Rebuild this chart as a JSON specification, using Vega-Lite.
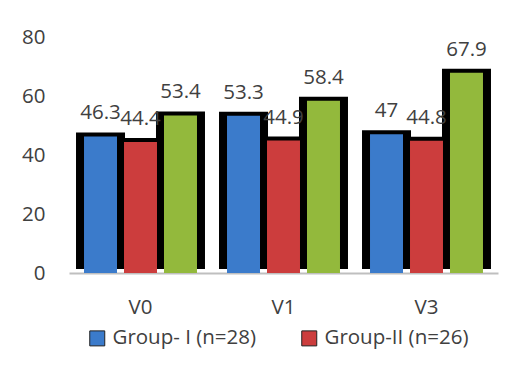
{
  "$schema": "https://vega.github.io/schema/vega-lite/v6.json",
  "autosize": {"type": "none"},
  "width": 429,
  "height": 236,
  "padding": {"left": 69, "top": 37, "right": 34, "bottom": 95},
  "background": "white",
  "config": {
    "view": {"stroke": null},
    "font": "Open Sans",
    "axis": {"labelColor": "#404040", "labelFont": "Open Sans", "labelFontSize": 20.5},
    "legend": {"labelColor": "#404040", "labelFont": "Open Sans", "labelFontSize": 20.5}
  },
  "data": {
    "values": [
      {"visit": "V0", "group": "Group- I (n=28)", "value": 46.3},
      {"visit": "V0", "group": "Group-II (n=26)", "value": 44.4},
      {"visit": "V0", "group": "Group-III", "value": 53.4},
      {"visit": "V1", "group": "Group- I (n=28)", "value": 53.3},
      {"visit": "V1", "group": "Group-II (n=26)", "value": 44.9},
      {"visit": "V1", "group": "Group-III", "value": 58.4},
      {"visit": "V3", "group": "Group- I (n=28)", "value": 47},
      {"visit": "V3", "group": "Group-II (n=26)", "value": 44.8},
      {"visit": "V3", "group": "Group-III", "value": 67.9}
    ]
  },
  "encoding": {
    "x": {
      "field": "visit", "type": "nominal",
      "scale": {"paddingInner": 0.21, "paddingOuter": 0.105},
      "axis": {"title": null, "labelAngle": 0, "ticks": false, "labelPadding": 24, "domainColor": "#bfbfbf", "domainWidth": 2}
    },
    "xOffset": {
      "field": "group", "type": "nominal",
      "sort": ["Group- I (n=28)", "Group-II (n=26)", "Group-III"],
      "scale": {"paddingInner": 0.175, "paddingOuter": 0}
    },
    "y": {
      "field": "value", "type": "quantitative",
      "scale": {"domain": [0, 80]},
      "axis": {"title": null, "values": [0, 20, 40, 60, 80], "grid": false, "domain": false, "ticks": false, "labelPadding": 24}
    }
  },
  "layer": [
    {
      "mark": {"type": "bar", "color": "black", "width": 49, "yOffset": -4}
    },
    {
      "mark": {"type": "bar"},
      "encoding": {
        "color": {
          "field": "group", "type": "nominal",
          "scale": {"domain": ["Group- I (n=28)", "Group-II (n=26)", "Group-III"], "range": ["#3b7bcb", "#cc3d3d", "#93b93c"]},
          "legend": {
            "title": null, "values": ["Group- I (n=28)", "Group-II (n=26)"],
            "orient": "none", "direction": "horizontal", "legendX": 18, "legendY": 291,
            "symbolType": "square", "symbolSize": 225, "symbolStrokeColor": "#222222", "symbolStrokeWidth": 1,
            "columnPadding": 42, "labelLimit": 300, "labelOffset": 5
          }
        }
      }
    },
    {
      "mark": {"type": "text", "baseline": "alphabetic", "dy": -17, "fontSize": 20.5, "color": "#404040"},
      "encoding": {"text": {"field": "value", "type": "quantitative"}}
    }
  ]
}
